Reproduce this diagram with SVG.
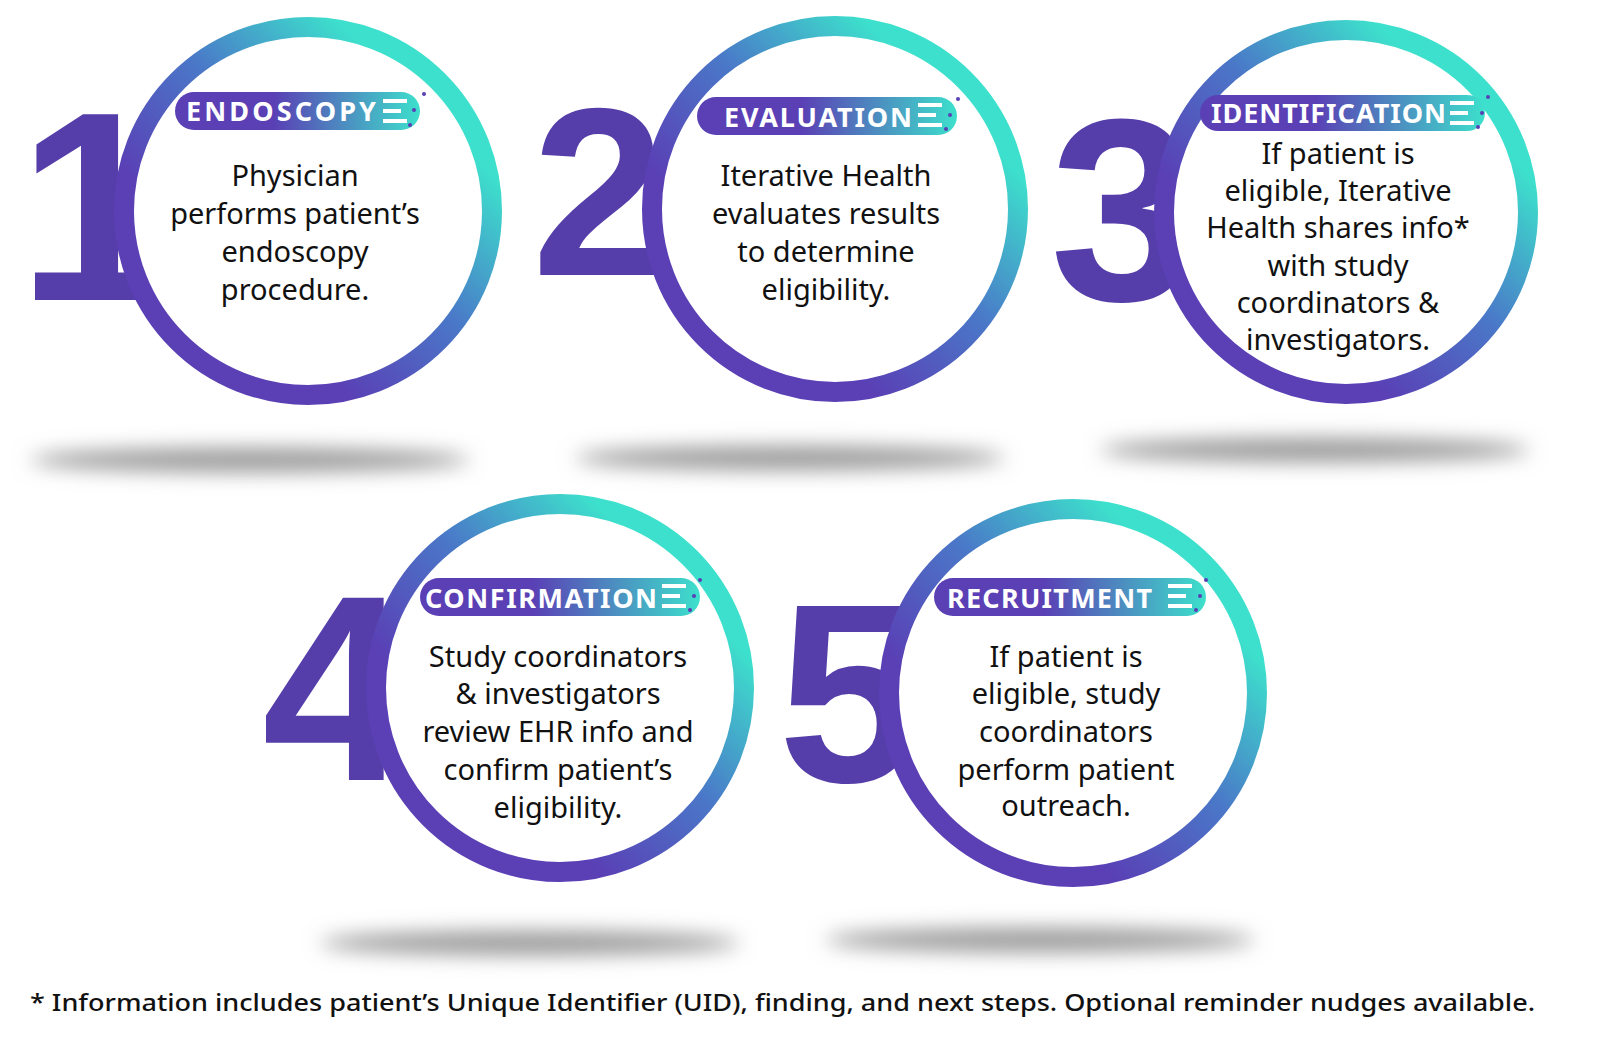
<svg xmlns="http://www.w3.org/2000/svg" width="1600" height="1055" viewBox="0 0 1600 1055">
<defs>
<linearGradient id="ring" x1="0" y1="1" x2="1" y2="0"><stop offset="0.3" stop-color="#5a3fb5"/><stop offset="0.55" stop-color="#4a78c8"/><stop offset="0.8" stop-color="#3de0cc"/></linearGradient>
<linearGradient id="pill" x1="0" y1="0" x2="1" y2="0"><stop offset="0.4" stop-color="#5a3fb5"/><stop offset="1" stop-color="#3de0cc"/></linearGradient>
<filter id="blur" x="-20%" y="-200%" width="140%" height="500%"><feGaussianBlur stdDeviation="10"/></filter>
</defs>
<style>
.dig{font-family:"Liberation Sans",Arial,sans-serif;font-weight:bold;fill:#553eaa}
.ring{fill:#fff;stroke:url(#ring);stroke-width:20}
.badge{font-family:"Noto Sans","Liberation Sans",sans-serif;font-weight:bold;font-size:27px;fill:#fff}
.body{font-family:"Noto Sans",sans-serif;font-size:29px;fill:#111;text-anchor:middle}
.sh{fill:#999;filter:url(#blur)}
.ic{stroke:#fff;stroke-width:4}
</style>
<g id="shadows">
<ellipse class="sh" cx="250" cy="460" rx="220" ry="12"/>
<ellipse class="sh" cx="790" cy="458" rx="215" ry="12"/>
<ellipse class="sh" cx="1315" cy="450" rx="215" ry="12"/>
<ellipse class="sh" cx="530" cy="943" rx="210" ry="12"/>
<ellipse class="sh" cx="1040" cy="940" rx="215" ry="12"/>
</g>
<g id="step1">
<text class="dig" x="18" y="300" font-size="270">1</text>
<circle class="ring" cx="308" cy="211" r="184"/>
<rect x="175" y="92" width="245" height="38" rx="19" fill="url(#pill)"/>
<text class="badge" x="186" y="121" textLength="190">ENDOSCOPY</text>
<path class="ic" d="M383 101h24M383 111h18M383 121h24"/><circle cx="424" cy="94" r="2" fill="#5a3fb5"/><circle cx="414" cy="110" r="2" fill="#5a3fb5"/><circle cx="410" cy="125" r="2" fill="#5a3fb5"/>
<text class="body"><tspan x="295" y="186">Physician</tspan><tspan x="295" y="224">performs patient’s</tspan><tspan x="295" y="262">endoscopy</tspan><tspan x="295" y="300">procedure.</tspan></text>
</g>
<g id="step2">
<text class="dig" x="532" y="275" font-size="240">2</text>
<circle class="ring" cx="835" cy="209" r="183"/>
<rect x="697" y="97" width="260" height="38" rx="19" fill="url(#pill)"/>
<text class="badge" x="724" y="127" textLength="188">EVALUATION</text>
<path class="ic" d="M918 105h24M918 115h18M918 125h24"/><circle cx="958" cy="99" r="2" fill="#5a3fb5"/><circle cx="950" cy="115" r="2" fill="#5a3fb5"/><circle cx="946" cy="129" r="2" fill="#5a3fb5"/>
<text class="body"><tspan x="826" y="186">Iterative Health</tspan><tspan x="826" y="224">evaluates results</tspan><tspan x="826" y="262">to determine</tspan><tspan x="826" y="300">eligibility.</tspan></text>
</g>
<g id="step3">
<text class="dig" x="1050" y="300" font-size="260">3</text>
<circle class="ring" cx="1346" cy="212" r="182"/>
<rect x="1200" y="95" width="285" height="36" rx="18" fill="url(#pill)"/>
<text class="badge" x="1211" y="123" textLength="235">IDENTIFICATION</text>
<path class="ic" d="M1450 103h24M1450 113h18M1450 123h24"/><circle cx="1488" cy="97" r="2" fill="#5a3fb5"/><circle cx="1482" cy="113" r="2" fill="#5a3fb5"/><circle cx="1478" cy="127" r="2" fill="#5a3fb5"/>
<text class="body"><tspan x="1338" y="164">If patient is</tspan><tspan x="1338" y="201">eligible, Iterative</tspan><tspan x="1338" y="238">Health shares info*</tspan><tspan x="1338" y="276">with study</tspan><tspan x="1338" y="313">coordinators &amp;</tspan><tspan x="1338" y="350">investigators.</tspan></text>
</g>
<g id="step4">
<text class="dig" x="262" y="780" font-size="265">4</text>
<circle class="ring" cx="560" cy="688" r="184"/>
<rect x="420" y="578" width="280" height="38" rx="19" fill="url(#pill)"/>
<text class="badge" x="425" y="608" textLength="232">CONFIRMATION</text>
<path class="ic" d="M662 586h24M662 596h18M662 606h24"/><circle cx="700" cy="580" r="2" fill="#5a3fb5"/><circle cx="694" cy="596" r="2" fill="#5a3fb5"/><circle cx="690" cy="610" r="2" fill="#5a3fb5"/>
<text class="body"><tspan x="558" y="667">Study coordinators</tspan><tspan x="558" y="704">&amp; investigators</tspan><tspan x="558" y="742">review EHR info and</tspan><tspan x="558" y="780">confirm patient’s</tspan><tspan x="558" y="818">eligibility.</tspan></text>
</g>
<g id="step5">
<text class="dig" x="778" y="782" font-size="255">5</text>
<circle class="ring" cx="1073" cy="693" r="184"/>
<rect x="934" y="578" width="272" height="38" rx="19" fill="url(#pill)"/>
<text class="badge" x="947" y="608" textLength="205">RECRUITMENT</text>
<path class="ic" d="M1168 586h24M1168 596h18M1168 606h24"/><circle cx="1206" cy="580" r="2" fill="#5a3fb5"/><circle cx="1200" cy="596" r="2" fill="#5a3fb5"/><circle cx="1196" cy="610" r="2" fill="#5a3fb5"/>
<text class="body"><tspan x="1066" y="667">If patient is</tspan><tspan x="1066" y="704">eligible, study</tspan><tspan x="1066" y="742">coordinators</tspan><tspan x="1066" y="780">perform patient</tspan><tspan x="1066" y="816">outreach.</tspan></text>
</g>
<text x="30" y="1011" font-family="'Noto Sans',sans-serif" font-weight="500" font-size="23" fill="#111" textLength="1505" lengthAdjust="spacingAndGlyphs">* Information includes patient’s Unique Identifier (UID), finding, and next steps. Optional reminder nudges available.</text>
</svg>
